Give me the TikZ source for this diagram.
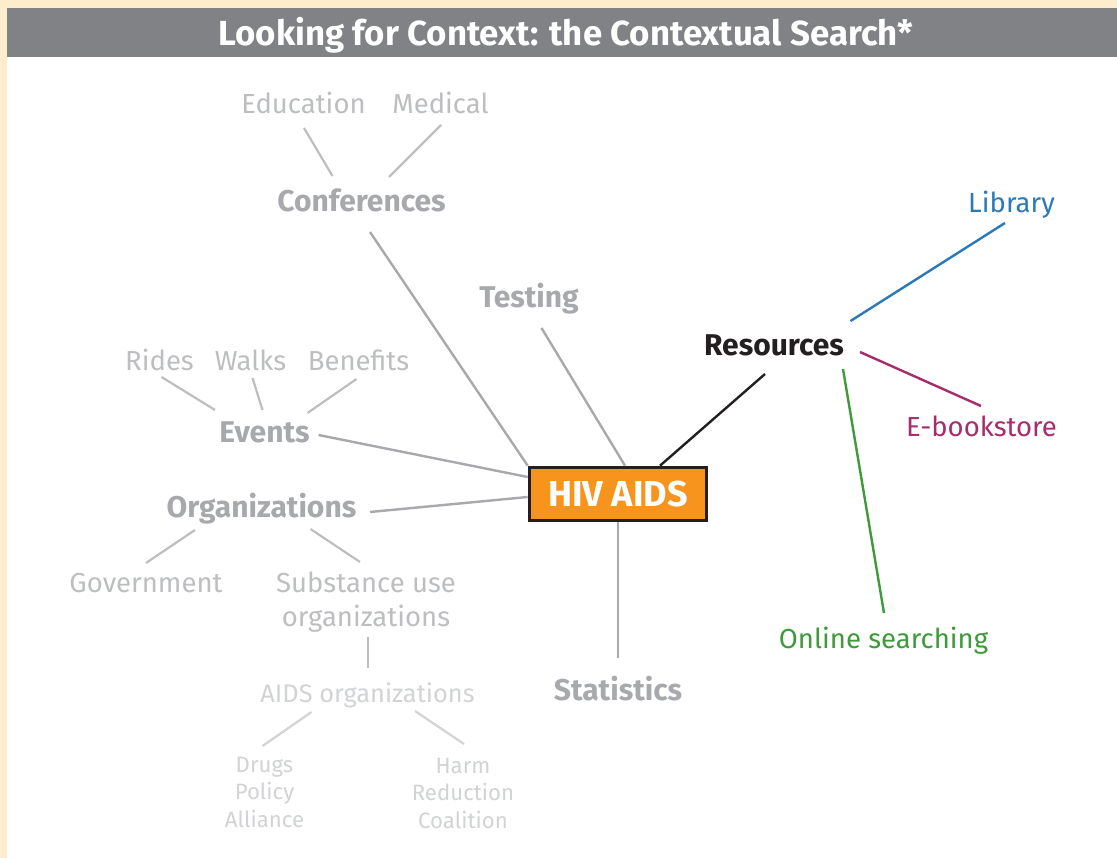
\documentclass[tikz,border=0pt]{standalone}
\usepackage{fontspec}
\setmainfont{Fira Sans}
\usetikzlibrary{calc}

\definecolor{cream}{HTML}{FEEDCC}
\definecolor{bargray}{HTML}{808285}
\definecolor{hubgray}{HTML}{A7A9AC}
\definecolor{leafgray}{HTML}{BCBEC0}
\definecolor{palegray}{HTML}{D1D3D4}
\definecolor{hivorange}{HTML}{F7941D}
\definecolor{ink}{HTML}{231F20}
\definecolor{libblue}{HTML}{2A7AB9}
\definecolor{bookmag}{HTML}{A62C6B}
\definecolor{webgreen}{HTML}{3D9B3A}

% multi-line labels: the base anchor sits on the last line
\tikzset{
  lbl/.style={inner sep=0pt, anchor=base, align=center},
  hub/.style={lbl, text=hubgray, font=\bfseries\fontsize{30}{33}\selectfont},
  leaf/.style={lbl, text=leafgray, font=\fontsize{27.5}{34}\selectfont},
  pale/.style={lbl, text=palegray, font=\fontsize{25.4}{28}\selectfont},
  tiny/.style={lbl, text=palegray, font=\fontsize{22.2}{27.5}\selectfont},
  conn/.style={line width=2.4pt, draw=hubgray},
  leafconn/.style={line width=2.2pt, draw=leafgray},
  paleconn/.style={line width=2.2pt, draw=palegray},
}

\begin{document}
\begin{tikzpicture}[x=1pt, y=-1pt]
  % page, cream frame and title bar
  \fill[cream] (0,0) rectangle (1117,858);
  \fill[white] (7,8) rectangle (1117,858);
  \fill[bargray] (7,8) rectangle (1117,57.5);
  \useasboundingbox (0,0) rectangle (1117,858);
  \node[lbl, text=white, font=\bfseries\fontsize{34.8}{38}\selectfont] (title) at (566,45.3)
    {Looking for Context: the Contextual Search*};

  % central topic
  \node[draw=ink, line width=3pt, fill=hivorange, text=white, inner sep=0pt,
        minimum width=177.6pt, minimum height=53.6pt,
        font=\bfseries\fontsize{36}{40}\selectfont] (hiv) at (618,494) {HIV AIDS};

  % first-level topics
  \node[hub] (conf) at (361.5,212) {Conferences};
  \node[hub] (test) at (529,308) {Testing};
  \node[hub] (events) at (264.5,443) {Events};
  \node[hub] (orgs) at (261.5,517) {Organizations};
  \node[hub] (stats) at (618,700) {Statistics};
  \node[hub, text=ink] (res) at (774,356) {Resources};

  % second-level topics
  \node[leaf] (edu) at (303.5,114) {Education};
  \node[leaf] (med) at (440.5,114) {Medical};
  \node[leaf] (rides) at (159.5,371) {Rides};
  \node[leaf] (walks) at (250.5,371) {Walks};
  \node[leaf] (ben) at (358.5,371) {Benefits};
  \node[leaf] (gov) at (146,592) {Government};
  \node[leaf] (subst) at (366,626) {Substance use\\organizations};
  \node[leaf, text=libblue] (lib) at (1011.5,213) {Library};
  \node[leaf, text=bookmag] (ebook) at (981.5,437) {E-bookstore};
  \node[leaf, text=webgreen] (online) at (883.5,648) {Online searching};

  % third and fourth levels
  \node[pale] (aids) at (367.5,702) {AIDS organizations};
  \node[tiny] (dpa) at (264.5,827) {Drugs\\Policy\\Alliance};
  \node[tiny] (hrc) at (463,828) {Harm\\Reduction\\Coalition};

  % connectors
  \draw[conn] ($(conf.base)+(8.5,20)$) -- (hiv.north west);
  \draw[conn] ($(test.base)+(12.5,20)$) -- ($(hiv.north)+(7,0)$);
  \draw[conn] ($(events.base)+(54,-8)$) -- ($(hiv.west)+(0,-17)$);
  \draw[conn] ($(orgs.base)+(108.5,-5)$) -- ($(hiv.west)+(0,3)$);
  \draw[conn] (hiv.south) -- ($(stats.base)+(0,-42)$);
  \draw[line width=2.4pt, draw=ink] ($(res.base)+(-9,18)$) -- ($(hiv.north)+(42,0)$);

  \draw[leafconn] ($(edu.base)+(0.5,14)$) -- ($(conf.base)+(-29,-36)$);
  \draw[leafconn] ($(med.base)+(0.5,11)$) -- ($(conf.base)+(27.5,-35)$);
  \draw[leafconn] ($(rides.base)+(2,6)$) -- ($(events.base)+(-49.5,-33)$);
  \draw[leafconn] ($(walks.base)+(2,7)$) -- ($(events.base)+(-2,-33)$);
  \draw[leafconn] ($(ben.base)+(-2,8)$) -- ($(events.base)+(43,-30)$);
  \draw[leafconn] ($(gov.base)+(0,-29)$) -- ($(orgs.base)+(-66.5,13)$);
  \draw[leafconn] ($(subst.base)+(-6,-64)$) -- ($(orgs.base)+(49,12)$);
  \draw[leafconn] ($(subst.base)+(2,11)$) -- ($(aids.base)+(0.5,-34)$);

  \draw[paleconn] ($(aids.base)+(-56,10)$) -- ($(dpa.base)+(-2,-81)$);
  \draw[paleconn] ($(aids.base)+(47.5,9)$) -- ($(hrc.base)+(1,-84)$);

  \draw[line width=2.4pt, draw=libblue] ($(lib.base)+(-6.5,10)$) -- ($(res.base)+(76.5,-35)$);
  \draw[line width=2.4pt, draw=bookmag] ($(res.base)+(86,-4)$) -- ($(ebook.base)+(-0.5,-31)$);
  \draw[line width=2.4pt, draw=webgreen] ($(res.base)+(69,13)$) -- ($(online.base)+(0.5,-35)$);
\end{tikzpicture}
\end{document}
